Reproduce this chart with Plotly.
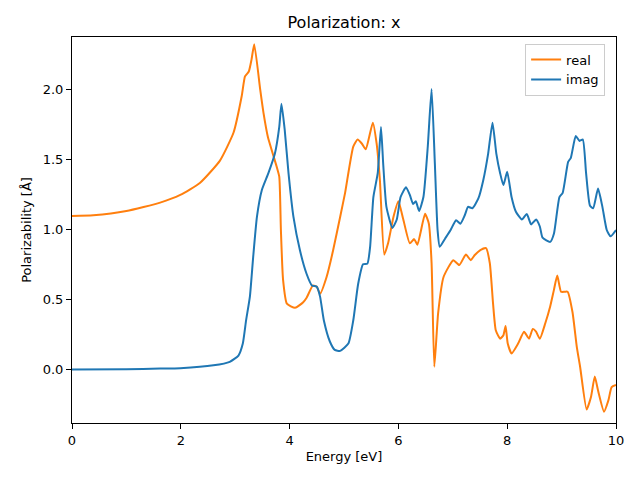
import plotly.graph_objects as go

# Real part (orange)
real_E = [0.0, 0.39, 1.0, 1.62, 1.99, 2.35, 2.72, 2.97, 3.12, 3.18, 3.25, 3.30, 3.35,
          3.46, 3.52, 3.60, 3.76, 3.81, 3.84, 3.88, 3.95, 4.10, 4.25, 4.31, 4.43, 4.50,
          4.56, 4.68, 4.80, 4.93, 5.02, 5.17, 5.25, 5.33, 5.40, 5.53, 5.60, 5.66, 5.74,
          5.81, 5.91, 6.00, 6.09, 6.21, 6.29, 6.35, 6.49, 6.56, 6.61, 6.66, 6.73, 6.83,
          7.01, 7.12, 7.24, 7.33, 7.40, 7.50, 7.61, 7.68, 7.74, 7.79, 7.87, 7.93, 7.97,
          8.01, 8.08, 8.20, 8.31, 8.40, 8.47, 8.53, 8.60, 8.70, 8.79, 8.86, 8.92, 8.99,
          9.06, 9.11, 9.20, 9.28, 9.34, 9.46, 9.54, 9.61, 9.67, 9.78, 9.86, 9.92, 10.0]
real_v = [1.095, 1.10, 1.13, 1.19, 1.245, 1.33, 1.49, 1.69, 1.95, 2.09, 2.125, 2.21, 2.32,
          1.995, 1.83, 1.66, 1.45, 1.375, 0.995, 0.64, 0.47, 0.44, 0.48, 0.51, 0.60, 0.59,
          0.54, 0.66, 0.85, 1.09, 1.26, 1.59, 1.64, 1.61, 1.57, 1.76, 1.61, 1.35, 0.82,
          0.90, 1.09, 1.20, 1.07, 0.90, 0.93, 0.89, 1.11, 1.04, 0.76, 0.02, 0.40, 0.66,
          0.78, 0.745, 0.82, 0.78, 0.815, 0.85, 0.865, 0.76, 0.47, 0.28, 0.22, 0.245, 0.31,
          0.185, 0.115, 0.185, 0.27, 0.22, 0.29, 0.27, 0.22, 0.33, 0.45, 0.57, 0.67, 0.555,
          0.555, 0.555, 0.41, 0.16, 0.02, -0.285, -0.195, -0.05, -0.15, -0.30, -0.22, -0.125, -0.11]

# Imaginary part (blue)
imag_E = [0.0, 1.0, 1.62, 1.99, 2.60, 2.90, 3.06, 3.14, 3.20, 3.27, 3.33, 3.40, 3.49, 3.61,
          3.73, 3.81, 3.85, 3.91, 3.98, 4.07, 4.19, 4.31, 4.41, 4.50, 4.56, 4.63, 4.74,
          4.83, 4.93, 5.08, 5.17, 5.26, 5.35, 5.43, 5.48, 5.54, 5.62, 5.68, 5.72, 5.78,
          5.89, 5.97, 6.04, 6.14, 6.21, 6.27, 6.32, 6.38, 6.46, 6.54, 6.61, 6.67, 6.72,
          6.76, 6.86, 6.96, 7.06, 7.14, 7.22, 7.28, 7.36, 7.47, 7.56, 7.65, 7.73, 7.80,
          7.87, 7.93, 8.00, 8.08, 8.16, 8.27, 8.36, 8.44, 8.53, 8.60, 8.65, 8.79, 8.86,
          8.96, 9.02, 9.12, 9.17, 9.26, 9.33, 9.39, 9.45, 9.52, 9.58, 9.67, 9.75, 9.83,
          9.90, 10.0]
imag_v = [0.0, 0.003, 0.007, 0.01, 0.03, 0.055, 0.10, 0.185, 0.35, 0.52, 0.80, 1.09, 1.28, 1.40,
          1.54, 1.73, 1.895, 1.71, 1.40, 1.09, 0.85, 0.685, 0.60, 0.59, 0.52, 0.35, 0.20,
          0.14, 0.133, 0.185, 0.35, 0.61, 0.75, 0.755, 0.875, 1.23, 1.40, 1.73, 1.47, 1.16,
          1.01, 1.07, 1.23, 1.30, 1.245, 1.18, 1.20, 1.13, 1.23, 1.59, 2.00, 1.47, 0.995,
          0.875, 0.935, 0.995, 1.065, 1.04, 1.10, 1.16, 1.15, 1.22, 1.35, 1.54, 1.76, 1.54,
          1.40, 1.315, 1.41, 1.23, 1.125, 1.07, 1.11, 1.035, 1.07, 1.02, 0.94, 0.91, 0.97,
          1.23, 1.26, 1.48, 1.51, 1.665, 1.63, 1.64, 1.40, 1.17, 1.15, 1.29, 1.16, 0.995,
          0.95, 0.995]

x_ticks = [0, 2, 4, 6, 8, 10]
y_ticks = [0.0, 0.5, 1.0, 1.5, 2.0]

font = "DejaVu Sans"
fig = go.Figure()
fig.add_trace(go.Scatter(x=real_E, y=real_v, mode="lines", name="real",
                         line=dict(color="#ff7f0e", width=2, shape="spline", smoothing=0.5)))
fig.add_trace(go.Scatter(x=imag_E, y=imag_v, mode="lines", name="imag",
                         line=dict(color="#1f77b4", width=2, shape="spline", smoothing=0.5)))

axis_common = dict(showline=True, linecolor="black", linewidth=1, mirror=True,
                   ticks="outside", ticklen=5, tickcolor="black", showgrid=False,
                   zeroline=False, automargin=False,
                   tickfont=dict(family=font, size=13, color="black"))
fig.update_layout(
    width=640, height=480,
    margin=dict(l=72, r=24, t=37, b=57, autoexpand=False),
    paper_bgcolor="white", plot_bgcolor="white",
    font=dict(family=font, color="black"),
    title=dict(text="Polarization: x", x=(72 + 616) / 2 / 640, xref="container", xanchor="center",
               y=1 - 22 / 480, yref="container", yanchor="middle", automargin=False,
               font=dict(family=font, size=16, color="black")),
    xaxis=dict(range=[0, 10], tickvals=x_ticks, ticktext=[str(t) for t in x_ticks],
               title=dict(text="Energy [eV]", font=dict(family=font, size=13), standoff=5),
               **axis_common),
    yaxis=dict(range=[-0.381, 2.371], tickvals=y_ticks, ticktext=[f"{t:.1f}" for t in y_ticks],
               title=dict(text="Polarizability [Å]", font=dict(family=font, size=13), standoff=8),
               **axis_common),
    legend=dict(x=0.98, y=0.983, xanchor="right", yanchor="top",
                bordercolor="#cccccc", borderwidth=1, bgcolor="rgba(255,255,255,0.8)",
                font=dict(family=font, size=13, color="black"), tracegroupgap=0),
    showlegend=True,
)
fig.write_html("out.html", post_script="document.body.style.margin='0';",
               config={"displayModeBar": False})
